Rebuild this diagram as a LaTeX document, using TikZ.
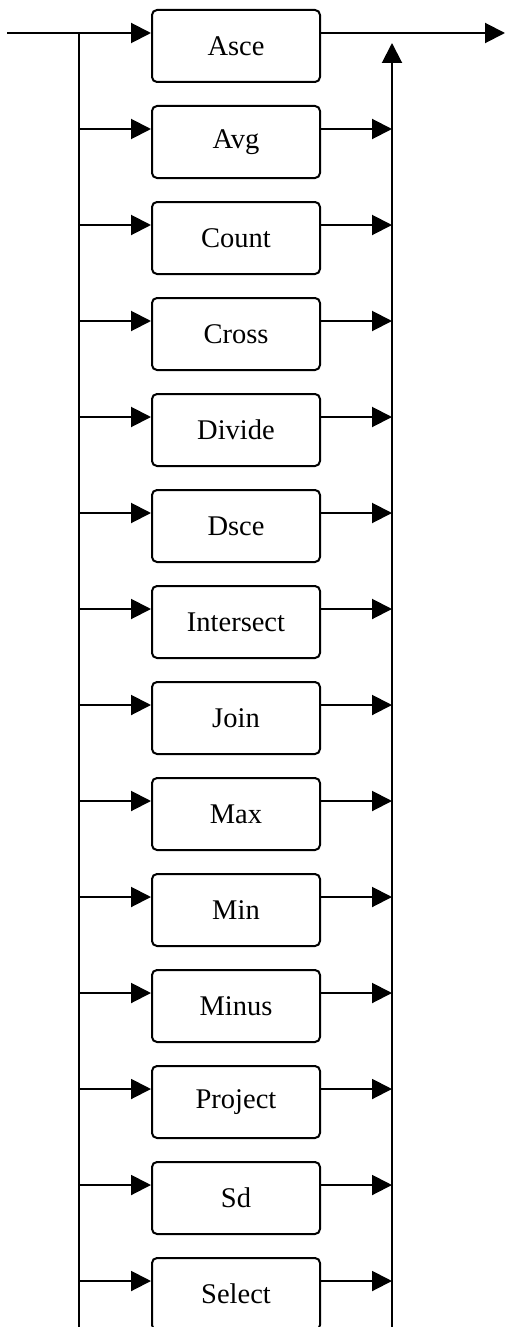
\documentclass[tikz,border=0pt]{standalone}
\usepackage{fontspec}
\setmainfont{Liberation Serif}
\usetikzlibrary{arrows.meta}
\begin{document}
\begin{tikzpicture}[x=1pt,y=-1pt,
  opbox/.style={draw,line width=2pt,rounded corners=5pt,minimum width=168pt,minimum height=72pt,inner sep=0pt,font=\fontsize{28.5}{34}\selectfont},
  conn/.style={line width=2pt},
  arr/.style={conn,-{Triangle[length=20pt,width=20pt]}}]
\useasboundingbox (0,0) rectangle (505,1327);
\foreach \name [count=\i from 0] in {Asce,Avg,Count,Cross,Divide,Dsce,Intersect,Join,Max,Min,Minus,Project,Sd,Select}{
  \node[opbox] (b\i) at (236,{46+96*\i}) {\name};
  \coordinate (in\i) at (79,{33+96*\i});
  \coordinate (out\i) at (392,{33+96*\i});
}
\coordinate (start) at (7,33);
\coordinate (lbot) at (79,1327);
\coordinate (rbot) at (392,1327);
\coordinate (rtop) at (392,43);
\coordinate (finish) at (505,33);
\draw[arr] (start) -- (b0.west |- in0);
\draw[arr] (b0.east |- in0) -- (finish);
\draw[conn] (in0) -- (lbot);
\draw[arr] (rbot) -- (rtop);
\foreach \i in {1,...,13}{
  \draw[arr] (in\i) -- (b\i.west |- in\i);
  \draw[arr] (b\i.east |- in\i) -- (out\i);
}
\end{tikzpicture}
\end{document}
